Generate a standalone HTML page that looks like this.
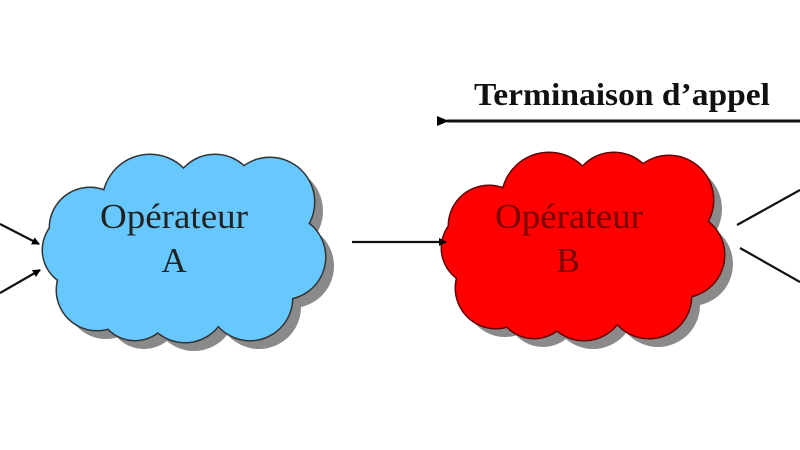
<!DOCTYPE html>
<html><head><meta charset="utf-8"><style>html,body{margin:0;padding:0;background:#fff}svg{display:block}</style></head>
<body>
<svg width="800" height="450" viewBox="0 0 800 450" xmlns="http://www.w3.org/2000/svg">
<defs>
<marker id="ah" markerWidth="8" markerHeight="8" refX="7" refY="4" orient="auto" markerUnits="userSpaceOnUse">
<path d="M0,0 L8,4 L0,8 Z" fill="#000"/></marker>
<marker id="ah2" markerWidth="12" markerHeight="10" refX="2" refY="5" orient="auto" markerUnits="userSpaceOnUse">
<path d="M12,0 L0,5 L12,10 Z" fill="#000"/></marker>
<g id="cl">
<circle cx="80" cy="250" r="37"/><circle cx="90" cy="228" r="40"/><circle cx="97" cy="290" r="40"/><circle cx="150" cy="202" r="47"/>
<circle cx="215" cy="197" r="42"/><circle cx="270" cy="202" r="44"/><circle cx="283" cy="257" r="42"/>
<circle cx="250" cy="298" r="42"/><circle cx="185" cy="300" r="42"/><circle cx="135" cy="303" r="37"/>
<circle cx="185" cy="250" r="75"/>
</g>
</defs>
<use href="#cl" transform="translate(9,9)" fill="#8a8a8a"/>
<use href="#cl" transform="translate(408,7)" fill="#8a8a8a"/>
<use href="#cl" fill="#5fc6fb" stroke="#333" stroke-width="3"/>
<use href="#cl" fill="#66c8ff"/>
<use href="#cl" transform="translate(399,-2)" fill="#ff0000" stroke="#600" stroke-width="3"/>
<use href="#cl" transform="translate(399,-2)" fill="#ff0000"/>
<g font-family="Liberation Serif, serif" font-size="35" text-anchor="middle">
<text x="174" y="228" fill="#222" textLength="148" lengthAdjust="spacingAndGlyphs">Opérateur</text>
<text x="174" y="272" fill="#222">A</text>
<text x="569" y="228" fill="#700" textLength="148" lengthAdjust="spacingAndGlyphs">Opérateur</text>
<text x="568" y="272" fill="#700">B</text>
</g>
<g stroke="#111" stroke-width="2.2" fill="none">
<line x1="0" y1="224" x2="39" y2="244" marker-end="url(#ah)"/>
<line x1="0" y1="293" x2="40" y2="270" marker-end="url(#ah)"/>
<line x1="352" y1="242" x2="446" y2="242" marker-end="url(#ah)"/>
<line x1="737" y1="225" x2="800" y2="190"/>
<line x1="740" y1="248" x2="800" y2="282"/>
<line x1="800" y1="121" x2="447" y2="121" stroke-width="3" marker-end="url(#ah2)"/>
</g>
<text x="474" y="105" font-family="Liberation Serif, serif" font-weight="bold" font-size="32" textLength="296" lengthAdjust="spacingAndGlyphs" fill="#111">Terminaison d’appel</text>
</svg>
</body></html>
